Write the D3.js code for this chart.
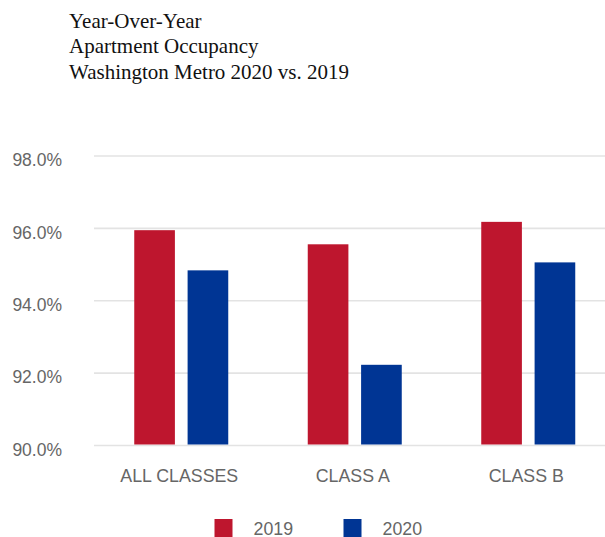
<!DOCTYPE html>
<html>
<head>
<meta charset="utf-8">
<script src="https://cdn.jsdelivr.net/npm/d3@7"></script>
<style>
  html, body { margin: 0; padding: 0; background: #fff; }
  svg { display: block; }
</style>
</head>
<body>
<svg id="chart" width="605" height="537"></svg>
<script>
// Occupancy rates (%) by apartment class
const categories = ["ALL CLASSES", "CLASS A", "CLASS B"];
const seriesNames = ["2019", "2020"];
const values2019 = [95.95, 95.56, 96.18];
const values2020 = [94.84, 92.23, 95.06];
const yTicks = [90, 92, 94, 96, 98];
const titleLines = ["Year-Over-Year", "Apartment Occupancy", "Washington Metro 2020 vs. 2019"];
const colors = ["#BE162E", "#003594"];

const svg = d3.select("#chart");
const W = 605;

const rows = categories.map((c, i) => ({ cat: c, vals: [values2019[i], values2020[i]] }));

const x = d3.scaleBand().domain(categories).range([94.5, 615]).paddingInner(0).paddingOuter(0);
const xSub = d3.scaleBand().domain(seriesNames).range([x.bandwidth() / 2 - 47, x.bandwidth() / 2 + 47]).paddingInner(0.2381);
const y = d3.scaleLinear().domain([90, 98]).range([445.5, 156]);

// Title
svg.append("g").selectAll("text").data(titleLines).join("text")
  .attr("x", 69)
  .attr("y", (d, i) => 27.5 + i * 25.8)
  .attr("font-family", "'Liberation Serif', 'Times New Roman', serif")
  .attr("font-size", 21)
  .attr("fill", "#111")
  .text(d => d);

// Grid lines
svg.append("g").selectAll("line").data(yTicks).join("line")
  .attr("x1", 94).attr("x2", W)
  .attr("y1", d => y(d)).attr("y2", d => y(d))
  .attr("stroke", "#e3e3e3").attr("stroke-width", 1.6);

// Y axis labels
const yAxis = d3.axisLeft(y).tickValues(yTicks).tickSize(0).tickPadding(0)
  .tickFormat(d => d3.format(".1f")(d) + "%");
const yg = svg.append("g").attr("transform", "translate(62,0)").call(yAxis);
yg.select(".domain").remove();
yg.selectAll("text")
  .attr("font-family", "'Liberation Sans', Arial, sans-serif")
  .attr("font-size", 17.5)
  .attr("fill", "#666")
  .attr("dy", "0.55em");

// Bars
const groups = svg.append("g").selectAll("g").data(rows).join("g")
  .attr("transform", d => `translate(${x(d.cat)},0)`);
groups.selectAll("rect")
  .data(d => d.vals.map((v, i) => ({ key: seriesNames[i], v, i })))
  .join("rect")
  .attr("x", d => xSub(d.key))
  .attr("width", xSub.bandwidth())
  .attr("y", d => y(d.v))
  .attr("height", d => y(90) - y(d.v) - 1)
  .attr("fill", d => colors[d.i]);

// Category labels
const xAxis = d3.axisBottom(x).tickSize(0).tickPadding(0);
const xg = svg.append("g").attr("transform", "translate(-2,468)").call(xAxis);
xg.select(".domain").remove();
xg.selectAll("text")
  .attr("font-family", "'Liberation Sans', Arial, sans-serif")
  .attr("font-size", 17.8)
  .attr("fill", "#666")
  .attr("dy", "0.76em");

// Legend
const legendX = [214.5, 343.5];
const legend = svg.append("g").selectAll("g").data(seriesNames).join("g")
  .attr("transform", (d, i) => `translate(${legendX[i]},519)`);
legend.append("rect").attr("width", 18).attr("height", 18)
  .attr("fill", (d, i) => colors[i]);
legend.append("text")
  .attr("x", 39).attr("y", 15.5)
  .attr("font-family", "'Liberation Sans', Arial, sans-serif")
  .attr("font-size", 17.8)
  .attr("fill", "#666")
  .text(d => d);
</script>
</body>
</html>
